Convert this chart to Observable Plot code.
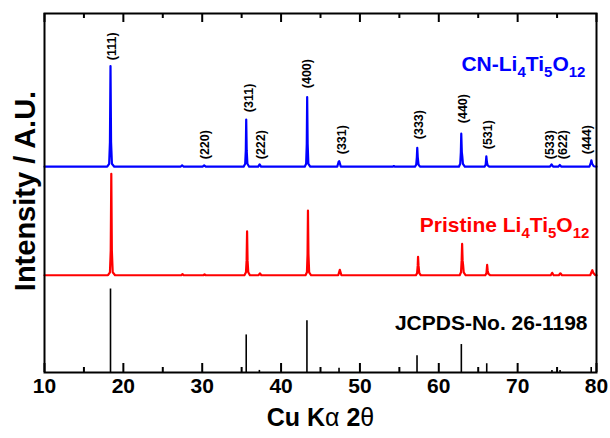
<!DOCTYPE html>
<html><head><meta charset="utf-8">
<script src="https://cdn.jsdelivr.net/npm/d3@7"></script>
<script src="https://cdn.jsdelivr.net/npm/@observablehq/plot@0.6"></script>
<style>body{margin:0;background:#fff;}</style>
</head><body><div id="chart"></div>
<script>
// ---- data ----
// CN-Li4Ti5O12 pattern: 2θ and relative intensity above its own baseline
const blueX = [10,17.95,18.2,18.3,18.37,18.44,18.55,18.85,27.25,27.45,27.65,30.05,30.25,30.45,35.25,35.45,35.53,35.58,35.64,35.73,35.95,37.1,37.28,37.46,43.0,43.18,43.26,43.31,43.37,43.46,43.7,47.12,47.3,47.38,47.58,54.15,54.3,54.45,56.98,57.14,57.22,57.27,57.33,57.43,57.62,62.55,62.72,62.8,62.85,62.92,62.98,63.06,63.3,65.8,65.95,66.03,66.1,66.2,66.4,74.1,74.3,74.5,75.15,75.35,75.55,79.1,79.28,79.35,79.45,79.65,80];
const blueI = [0.5,0.5,4,30,121,30,4,0.5,0.5,2.2,0.5,0.5,2,0.5,0.5,4,20,57,20,4,0.5,0.5,3.2,0.5,0.5,4,28,84,28,4,0.5,0.5,6.5,7,0.5,0.5,1.3,0.5,0.5,3,12,23,12,3,0.5,0.5,4,18,40,18,13,4,0.5,0.5,3,13,6,2,0.5,0.5,3.2,0.5,0.5,2.6,0.5,0.5,5,8.2,4,1,0.5];
// Pristine Li4Ti5O12 pattern
const redX = [10,18.05,18.3,18.4,18.47,18.54,18.65,18.95,27.35,27.5,27.65,30.15,30.3,30.45,35.35,35.55,35.63,35.69,35.75,35.84,36.05,37.15,37.32,37.5,43.1,43.28,43.36,43.41,43.47,43.56,43.8,47.25,47.45,47.65,57.1,57.25,57.33,57.37,57.43,57.53,57.72,62.65,62.82,62.9,62.96,63.02,63.08,63.16,63.4,65.9,66.05,66.13,66.2,66.3,66.5,74.2,74.38,74.56,75.22,75.42,75.62,79.2,79.4,79.47,79.58,79.8,80];
const redI = [0.5,0.5,4,30,122,30,4,0.5,0.5,1.8,0.5,0.5,1.5,0.5,0.5,4,18,53,18,4,0.5,0.5,2.8,0.5,0.5,4,26,78,26,4,0.5,0.5,7,0.5,0.5,3,12,22.5,12,3,0.5,0.5,4,18,38,18,13,4,0.5,0.5,3,12.8,6,2,0.5,0.5,3.4,0.5,0.5,2.8,0.5,0.5,5,6.5,3.5,1,0.5];
// vertical stacking offsets
const blueOffset = 246;
const redOffset = 116;
// JCPDS No. 26-1198 reference lines
const jcpdsPos = [18.37,35.58,37.25,43.28,47.35,57.24,62.86,66.08,74.35,75.38,79.33];
const jcpdsI = [100,45,2.5,62,5,20,33.5,10.5,2.5,2.5,6];
// Miller index labels
const hklText = ["(111)","(220)","(311)","(222)","(400)","(331)","(333)","(440)","(531)","(533)","(622)","(444)"];
const hklX = [18.58,30.29,35.87,37.46,43.35,47.75,57.43,63.13,66.30,74.04,75.81,78.82];
const hklY = [374,255.4,311.8,255.4,340.5,261.4,279.4,298.6,267.4,255.4,255.4,261.4];
// axis ticks
const majorTicks = [10,20,30,40,50,60,70,80];
const minorTicks = [15,25,35,45,55,65,75];
// series labels
const seriesLabels = ["CN-Li4Ti5O12","Pristine Li4Ti5O12","JCPDS-No. 26-1198"];
const seriesColors = ["#0000ff","#ff0000","#000000"];
const seriesLabelX = [78.6,79.1,78.86];
const seriesLabelY = [368.7,176.9,59.4];

// ---- build tables ----
const blue = blueX.map((x,i)=>({x, y: blueI[i] + blueOffset}));
const red = redX.map((x,i)=>({x, y: redI[i] + redOffset}));
const sticks = jcpdsPos.map((x,i)=>({x, y: jcpdsI[i]}));
const hkl = hklText.map((t,i)=>({t, x: hklX[i], y: hklY[i]}));
const labels = seriesLabels.map((t,i)=>({t, x: seriesLabelX[i], y: seriesLabelY[i], c: seriesColors[i]}));

const W = 610, H = 438, mT = 13, mB = 66, mL = 44, mR = 14;
const innerH = H - mT - mB;
const font = "'Liberation Sans', Arial, Helvetica, sans-serif";

const chart = Plot.plot({
  width: W, height: H,
  marginTop: mT, marginBottom: mB, marginLeft: mL, marginRight: mR,
  style: {fontFamily: font, background: "white", overflow: "visible"},
  x: {domain: [10, 80], axis: null},
  y: {domain: [0, 430], axis: null},
  marks: [
    Plot.ruleX(sticks, {x: "x", y1: 0, y2: "y", stroke: "black", strokeWidth: 1.6}),
    Plot.line(red, {x: "x", y: "y", stroke: "#ff0000", strokeWidth: 2.2, strokeLinejoin: "round"}),
    Plot.line(blue, {x: "x", y: "y", stroke: "#0000ff", strokeWidth: 2.2, strokeLinejoin: "round"}),
    Plot.text(hkl, {x: "x", y: "y", text: "t", rotate: -90, textAnchor: "start", fontSize: 12.5, fontWeight: "bold", fill: "black"}),
    Plot.text(labels, {x: "x", y: "y", text: "t", textAnchor: "end", fontSize: 21, fontWeight: "bold", fill: "c"}),
    // ticks (inward, top and bottom)
    Plot.ruleX(majorTicks, {x: d => d, insetTop: innerH - 9, stroke: "black", strokeWidth: 2}),
    Plot.ruleX(majorTicks, {x: d => d, insetBottom: innerH - 9, stroke: "black", strokeWidth: 2}),
    Plot.ruleX(minorTicks, {x: d => d, insetTop: innerH - 5, stroke: "black", strokeWidth: 2}),
    Plot.ruleX(minorTicks, {x: d => d, insetBottom: innerH - 5, stroke: "black", strokeWidth: 2}),
    Plot.text(majorTicks, {x: d => d, text: d => String(d), frameAnchor: "bottom", dy: 20.5, fontSize: 21, fontWeight: "bold", fill: "black"}),
    Plot.text(["Cu Kα 2θ"], {frameAnchor: "bottom", textAnchor: "middle", dy: 53, fontSize: 25, fontWeight: "bold", fill: "black"}),
    Plot.text(["Intensity / A.U."], {frameAnchor: "left", textAnchor: "middle", dx: -18.5, dy: -2, rotate: -90, fontSize: 29, fontWeight: "bold", fill: "black"}),
    Plot.frame({stroke: "black", strokeWidth: 2})
  ]
});

// subscripts / mixed weights as tspans
const rich = {
  "CN-Li4Ti5O12": [["CN-Li",0],["4",1],["Ti",0],["5",1],["O",0],["12",1]],
  "Pristine Li4Ti5O12": [["Pristine Li",0],["4",1],["Ti",0],["5",1],["O",0],["12",1]],
  "Cu Kα 2θ": [["Cu K",0,"bold"],["α",0,"normal"],[" 2",0,"bold"],["θ",0,"normal"]]
};
d3.select(chart).selectAll("text").each(function(){
  const segs = rich[this.textContent];
  if (!segs) return;
  const el = d3.select(this);
  el.text(null);
  let down = false;
  segs.forEach(([s, sub, w]) => {
    const t = el.append("tspan").text(s);
    if (w) t.attr("font-weight", w);
    if (sub) {
      t.attr("font-size", 15);
      if (!down) { t.attr("dy", 6); down = true; }
    } else if (down) { t.attr("dy", -6); down = false; }
  });
});
document.getElementById("chart").appendChild(chart);
</script></body></html>
